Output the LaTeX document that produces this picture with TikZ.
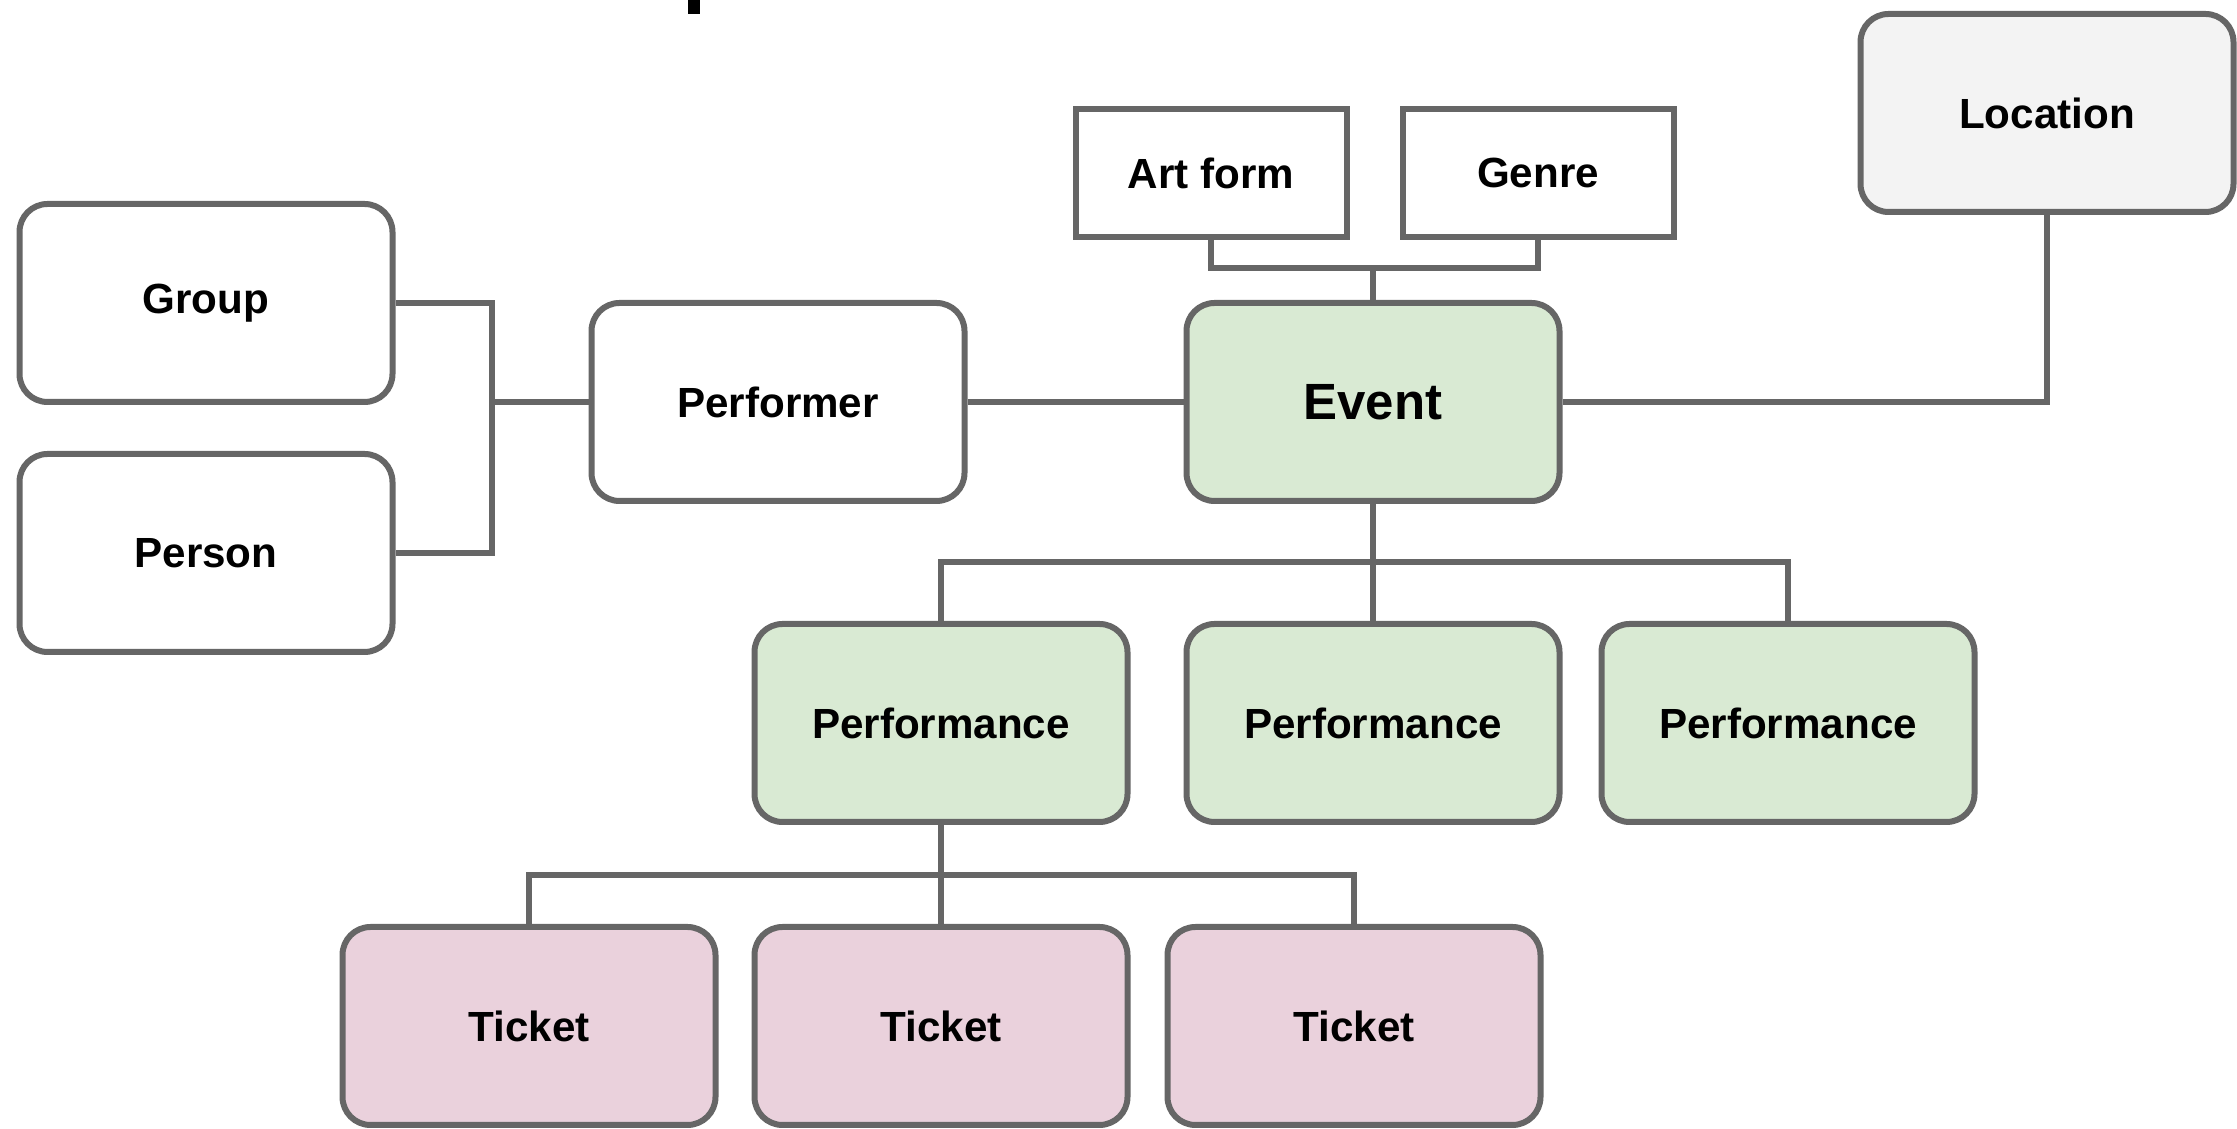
\documentclass[tikz,border=0pt]{standalone}
\usepackage{fontspec}
\setmainfont{Liberation Sans}
\definecolor{edge}{HTML}{666666}
\definecolor{evgreen}{HTML}{D9EAD3}
\definecolor{tkpink}{HTML}{EAD1DC}
\definecolor{locgray}{HTML}{F3F3F3}
\begin{document}
\begin{tikzpicture}[x=0.1mm,y=-0.1mm,
  box/.style={draw=edge,line width=0.6mm,rounded corners=2.8mm,minimum width=37.3mm,minimum height=19.8mm,inner sep=0pt,align=center,font=\bfseries\fontsize{12}{14}\selectfont,fill=white},
  sqbox/.style={box,rounded corners=0pt,minimum width=27.1mm,minimum height=12.8mm},
  greenbox/.style={box,fill=evgreen},
  pinkbox/.style={box,fill=tkpink},
  conn/.style={draw=edge,line width=0.6mm}]
\useasboundingbox (0,0) rectangle (2237,1129);
\fill[black] (688,0) rectangle (700,14);
\node[box] (group) at (206,303) {Group};
\node[box] (person) at (206,553) {Person};
\node[box] (performer) at (778,402) {Performer};
\node[greenbox,font=\bfseries\fontsize{14.5}{17}\selectfont] (event) at (1373,402) {Event};
\node[sqbox] (artform) at (1211,173) {Art form};
\node[sqbox] (genre) at (1538,173) {Genre};
\node[box,fill=locgray] (location) at (2047,113) {Location};
\node[greenbox] (perf1) at (941,723) {Performance};
\node[greenbox] (perf2) at (1373,723) {Performance};
\node[greenbox] (perf3) at (1788,723) {Performance};
\node[pinkbox] (ticket1) at (529,1026) {Ticket};
\node[pinkbox] (ticket2) at (941,1026) {Ticket};
\node[pinkbox] (ticket3) at (1354,1026) {Ticket};
\coordinate (gbus) at (492,402);
\coordinate (pbus) at (1373,562);
\coordinate (tbus) at (941,875);
\draw[conn] (group.east) -| (gbus) |- (person.east);
\draw[conn] (performer.west) -- (gbus);
\draw[conn] (performer.east) -- (event.west);
\draw[conn] (artform.south) -- ++(0,28) -| (genre.south);
\draw[conn] (event.north) -- ++(0,-32);
\draw[conn] (event.east) -| (location.south);
\draw[conn] (event.south) -- (perf2.north);
\draw[conn] (perf1.north) |- (pbus) -| (perf3.north);
\draw[conn] (perf1.south) -- (ticket2.north);
\draw[conn] (ticket1.north) |- (tbus) -| (ticket3.north);
\end{tikzpicture}
\end{document}
